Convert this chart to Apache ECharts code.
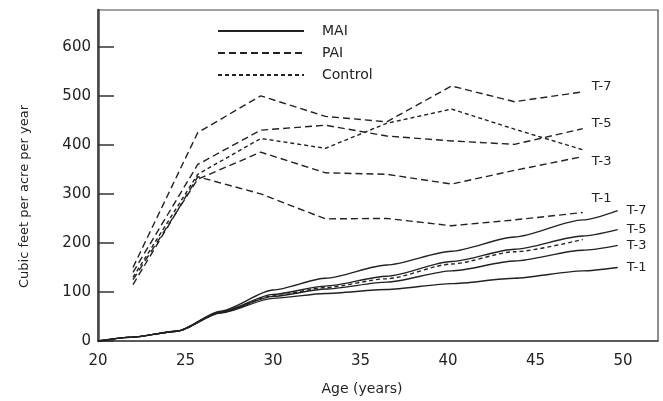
<!DOCTYPE html>
<html>
<head>
<meta charset="utf-8">
<script src="https://cdn.jsdelivr.net/npm/echarts@6/dist/echarts.min.js"></script>
<style>
  html, body { margin: 0; background: #fff; }
  #chart { width: 663px; height: 401px; }
</style>
</head>
<body>
<div id="chart"></div>
<script>
// ages (years) where the curves were read
const maiAges = [20, 22, 24.5, 27, 30, 33, 36.5, 40.2, 43.8, 47.7, 49.7];
const paiAges = [22, 25.7, 29.3, 33, 36.5, 40.2, 43.8, 47.7];

// mean annual increment, cubic feet per acre per year
const maiT7 = [0, 8, 20, 61, 104, 128, 155, 183, 212, 247, 266];
const maiT5 = [0, 8, 20, 59, 95, 112, 132, 162, 187, 214, 227];
const maiT3 = [0, 8, 20, 58, 91, 106, 120, 143, 163, 185, 195];
const maiT1 = [0, 8, 20, 57, 87, 97, 105, 117, 128, 143, 150];
const maiControl = [0, 8, 20, 58, 92, 109, 127, 157, 182, 207];

// periodic annual increment
const paiT7 = [150, 425, 500, 458, 447, 520, 488, 508];
const paiT5 = [140, 360, 430, 440, 418, 408, 401, 433];
const paiT3 = [125, 330, 385, 343, 340, 320, 348, 376];
const paiT1 = [115, 335, 300, 249, 250, 235, 247, 262];
const paiControl = [130, 340, 413, 393, 444, 473, 432, 390];

const xTicks = [20, 25, 30, 35, 40, 45, 50];
const yTicks = [0, 100, 200, 300, 400, 500, 600];

const font = 'DejaVu Sans';
const ink = '#222';

function pairs(xs, ys) {
  return ys.map((v, i) => [xs[i], v]);
}

function curve(name, xs, ys, dash, label, smooth, dy) {
  return {
    name: name,
    type: 'line',
    data: pairs(xs, ys),
    symbol: 'none',
    smooth: smooth,
    smoothMonotone: 'x',
    lineStyle: { color: ink, width: 1.4, type: dash },
    itemStyle: { color: ink },
    endLabel: label ? {
      show: true,
      formatter: label,
      color: ink,
      fontFamily: font,
      fontSize: 13,
      distance: 9,
      offset: [0, dy || 0]
    } : { show: false }
  };
}

const paiDash = [7, 4];
const ctlDash = [4, 3];

const chart = echarts.init(document.getElementById('chart'));
chart.setOption({
  animation: false,
  backgroundColor: '#fff',
  grid: {
    left: 98, top: 10, right: 5, bottom: 58,
    show: true, borderColor: '#444', borderWidth: 1.2
  },
  legend: {
    data: ['MAI', 'PAI', 'Control'],
    orient: 'vertical',
    left: 212,
    top: 19,
    itemWidth: 86,
    itemHeight: 14,
    itemGap: 8,
    selectedMode: false,
    itemStyle: { opacity: 0 },
    textStyle: { fontFamily: font, fontSize: 14, color: ink, padding: [0, 0, 0, 13] }
  },
  xAxis: {
    type: 'value',
    min: 20,
    max: 52,
    name: 'Age (years)',
    nameLocation: 'middle',
    nameGap: 41,
    nameTextStyle: { fontFamily: font, fontSize: 14, color: ink, padding: [0, 32, 0, 0] },
    axisLine: { show: true, lineStyle: { color: '#444', width: 1.5 } },
    axisTick: { show: false },
    splitLine: { show: false },
    axisLabel: {
      customValues: xTicks,
      margin: 13,
      fontFamily: font,
      fontSize: 15,
      color: ink
    }
  },
  yAxis: {
    type: 'value',
    min: 0,
    max: 675,
    name: 'Cubic feet per acre per year',
    nameLocation: 'middle',
    nameGap: 67,
    nameTextStyle: { fontFamily: font, fontSize: 13, color: ink, padding: [0, 42, 0, 0] },
    axisLine: { show: true, lineStyle: { color: '#444', width: 2.5 } },
    axisTick: {
      show: true,
      inside: true,
      length: 16,
      customValues: yTicks,
      lineStyle: { color: '#333', width: 1.5 }
    },
    splitLine: { show: false },
    axisLabel: {
      customValues: yTicks,
      margin: 7,
      fontFamily: font,
      fontSize: 15,
      color: ink
    }
  },
  series: [
    curve('MAI', maiAges, maiT7, 'solid', 'T-7', 0.25),
    curve('MAI', maiAges, maiT5, 'solid', 'T-5', 0.25),
    curve('MAI', maiAges, maiT3, 'solid', 'T-3', 0.25),
    curve('MAI', maiAges, maiT1, 'solid', 'T-1', 0.25),
    curve('PAI', paiAges, paiT7, paiDash, 'T-7', false, -5),
    curve('PAI', paiAges, paiT5, paiDash, 'T-5', false, -5),
    curve('PAI', paiAges, paiT3, paiDash, 'T-3', false, 5),
    curve('PAI', paiAges, paiT1, paiDash, 'T-1', false, -14),
    curve('Control', paiAges, paiControl, ctlDash, null, false),
    curve('Control', maiAges.slice(0, maiControl.length), maiControl, ctlDash, null, 0.25)
  ]
});
</script>
</body>
</html>
